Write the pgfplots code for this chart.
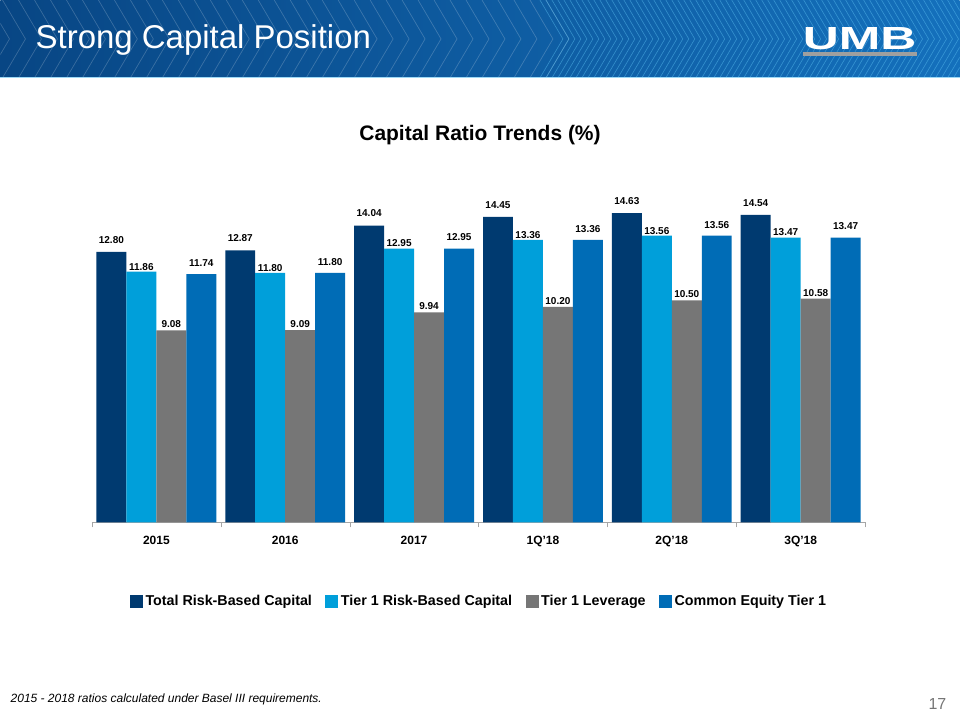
\documentclass[border=0pt]{standalone}
\usepackage{pgfplots}
\pgfplotsset{compat=1.18}
\usepackage{fontspec}
\setmainfont{Liberation Sans}
\definecolor{navy}{RGB}{0,58,112}
\definecolor{lblue}{RGB}{0,159,218}
\definecolor{lgray}{RGB}{118,118,118}
\definecolor{mblue}{RGB}{0,108,182}
\definecolor{hdl}{RGB}{8,70,132}
\definecolor{hdr}{RGB}{20,112,188}
\definecolor{hline}{RGB}{90,190,240}
\begin{document}
\begin{tikzpicture}[x=1pt,y=1pt]
\fill[white] (0,0) rectangle (960,720);
% header band
\shade[left color=hdl, right color=hdr] (0,642) rectangle (960,720);
\begin{scope}
\clip (0,642) rectangle (960,720);
\foreach \s in {-30,-14,...,560} \draw[white,opacity=0.2,line width=0.7] (\s,720) -- (\s+23,681) -- (\s,642);
\foreach \s in {540,546,...,1000} \draw[hline,opacity=0.5,line width=0.6] (\s,720) -- (\s+23,681) -- (\s,642);
\end{scope}
\draw[hline!60!white, line width=1] (0,642) -- (960,642);
\node[anchor=base west, text=white, inner sep=0, font=\fontsize{33}{36}\selectfont] at (35,671) {Strong Capital Position};
\node[anchor=base west, text=white, inner sep=0, font=\bfseries\fontsize{32}{32}\selectfont] at (803,670) {\scalebox{1.56}[1]{UMB}};
\fill[gray!75] (803,664) rectangle (917,668);
% chart title
\node[anchor=base, inner sep=0, font=\bfseries\fontsize{21}{24}\selectfont] at (480,579) {Capital Ratio Trends (\%)};
% footnote and page number
\node[anchor=base west, inner sep=0, font=\itshape\fontsize{12}{14}\selectfont] at (10,17) {2015 - 2018 ratios calculated under Basel III requirements.};
\node[anchor=base east, inner sep=0, text=lgray, font=\fontsize{16}{18}\selectfont] at (947,10) {17};
\begin{axis}[
  at={(91.5pt,197pt)}, anchor=south west,
  scale only axis, width=774pt, height=338.7pt,
  ymin=0, ymax=16, xmin=-0.5, xmax=5.5,
  ybar=0pt, bar width=30pt,
  axis x line*=bottom, axis y line=none,
  x axis line style={-, draw=gray!70},
  xtick={0,...,5},
  xticklabels={2015,2016,2017,1Q'18,2Q'18,3Q'18},
  major x tick style={draw=none},
  minor xtick={-0.5,0.5,...,5.5},
  minor x tick style={draw=gray!70},
  minor tick length=5pt,
  tick align=outside,
  xticklabel style={font=\bfseries\fontsize{12}{14}\selectfont, yshift=-6pt},
  clip=false,
  nodes near coords,
  nodes near coords style={font=\bfseries\fontsize{10}{12}\selectfont, text=black},
  /pgf/number format/fixed,
  /pgf/number format/fixed zerofill,
  /pgf/number format/precision=2,
  /pgf/number format/assume math mode=true,
  legend columns=4,
  legend style={draw=none, fill=none, at={(0.501,-0.233)}, anchor=center,
    font=\bfseries\fontsize{14.3}{16}\selectfont,
    /tikz/every even column/.append style={column sep=11pt},
    nodes={inner sep=2.5pt}},
  legend image code/.code={\fill[#1,draw=none] (0pt,-6.5pt) rectangle (13pt,6.5pt);},
]
\addplot[fill=navy, draw=none, every node near coord/.append style={yshift=5pt}]
  coordinates {(0,12.80) (1,12.87) (2,14.04) (3,14.45) (4,14.63) (5,14.54)};
\addplot[fill=lblue, draw=none, every node near coord/.append style={yshift=-2pt}]
  coordinates {(0,11.86) (1,11.80) (2,12.95) (3,13.36) (4,13.56) (5,13.47)};
\addplot[fill=lgray, draw=none, every node near coord/.append style={yshift=-1pt}]
  coordinates {(0,9.08) (1,9.09) (2,9.94) (3,10.20) (4,10.50) (5,10.58)};
\addplot[fill=mblue, draw=none, every node near coord/.append style={yshift=4pt}]
  coordinates {(0,11.74) (1,11.80) (2,12.95) (3,13.36) (4,13.56) (5,13.47)};
\legend{Total Risk-Based Capital, Tier 1 Risk-Based Capital, Tier 1 Leverage, Common Equity Tier 1}
\end{axis}
\end{tikzpicture}
\end{document}
